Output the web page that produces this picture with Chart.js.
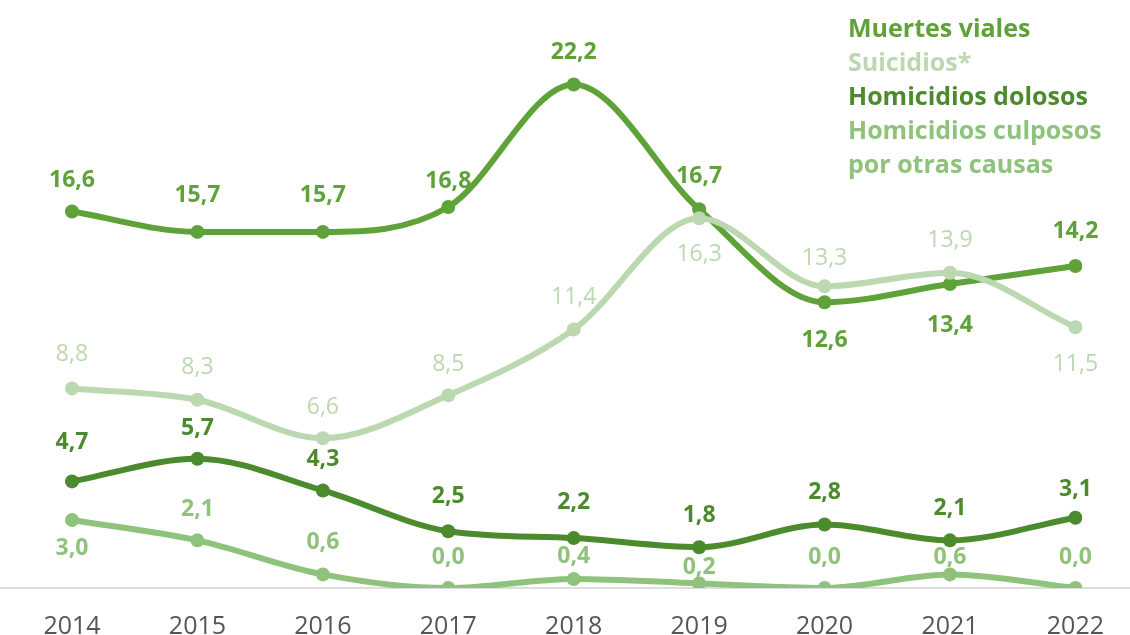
<!DOCTYPE html>
<html lang="es">
<head>
<meta charset="UTF-8">
<title>Tasas 2014-2022</title>
<script src="https://cdn.jsdelivr.net/npm/chart.js"></script>
<style>
  html, body { margin: 0; padding: 0; background: #fff; }
  #wrap { width: 1130px; height: 635px; }
</style>
</head>
<body>
<div id="wrap"><canvas id="chart" width="1130" height="635"></canvas></div>
<script>
// datos
const years = ['2014', '2015', '2016', '2017', '2018', '2019', '2020', '2021', '2022'];
const muertesViales = [16.6, 15.7, 15.7, 16.8, 22.2, 16.7, 12.6, 13.4, 14.2];
const suicidios = [8.8, 8.3, 6.6, 8.5, 11.4, 16.3, 13.3, 13.9, 11.5];
const homicidiosDolosos = [4.7, 5.7, 4.3, 2.5, 2.2, 1.8, 2.8, 2.1, 3.1];
const homicidiosCulposos = [3.0, 2.1, 0.6, 0.0, 0.4, 0.2, 0.0, 0.6, 0.0];

// desplazamiento vertical de cada etiqueta respecto de su punto (px)
const offMuertes = [-31, -36, -36, -26, -32, -33, 38, 41, -34];
const offSuicidios = [-34, -32, -31, -31, -32, 36, -28, -32, 37];
const offDolosos = [-39, -30, -31, -35, -36, -32, -32, -32, -28];
const offCulposos = [28, -31, -32, -31, -22, -16, -31, -17, -31];

const C_MUERTES = '#5fa23a';
const C_SUICIDIOS = '#bcd8b0';
const C_DOLOSOS = '#4b8a2d';
const C_CULPOSOS = '#8fc37b';

const FONT = '"Open Sans", "Noto Sans", sans-serif';

function fmt(v) {
  return v.toFixed(1).replace('.', ',');
}

function serie(label, data, color, width, order, offsets, weight) {
  return {
    label: label,
    data: data,
    borderColor: color,
    backgroundColor: color,
    borderWidth: width,
    pointRadius: 7,
    pointBorderWidth: 0,
    pointBackgroundColor: color,
    cubicInterpolationMode: 'monotone',
    order: order,
    offsets: offsets,
    labelWeight: weight
  };
}

// etiquetas de valores
const valueLabels = {
  id: 'valueLabels',
  afterDatasetsDraw(chart) {
    const ctx = chart.ctx;
    ctx.save();
    ctx.textAlign = 'center';
    ctx.textBaseline = 'middle';
    chart.data.datasets.forEach((ds, i) => {
      const meta = chart.getDatasetMeta(i);
      ctx.fillStyle = ds.borderColor;
      ctx.font = ds.labelWeight + ' 23px ' + FONT;
      meta.data.forEach((pt, j) => {
        ctx.fillText(fmt(ds.data[j]), pt.x, pt.y + ds.offsets[j]);
      });
    });
    ctx.restore();
  }
};

// línea base y leyenda
const extras = {
  id: 'extras',
  beforeDatasetsDraw(chart) {
    const ctx = chart.ctx;
    const y = chart.scales.y.getPixelForValue(0);
    ctx.save();
    ctx.strokeStyle = '#dddddd';
    ctx.lineWidth = 2;
    ctx.beginPath();
    ctx.moveTo(0, y);
    ctx.lineTo(chart.width, y);
    ctx.stroke();
    ctx.restore();
  },
  afterDraw(chart) {
    const ctx = chart.ctx;
    const lines = [
      ['Muertes viales', C_MUERTES],
      ['Suicidios*', C_SUICIDIOS],
      ['Homicidios dolosos', C_DOLOSOS],
      ['Homicidios culposos', C_CULPOSOS],
      ['por otras causas', C_CULPOSOS]
    ];
    ctx.save();
    ctx.font = 'bold 25px ' + FONT;
    ctx.textAlign = 'left';
    ctx.textBaseline = 'middle';
    lines.forEach((l, i) => {
      ctx.fillStyle = l[1];
      ctx.fillText(l[0], 848, 30 + i * 34);
    });
    ctx.restore();
  }
};

new Chart(document.getElementById('chart'), {
  type: 'line',
  data: {
    labels: years,
    datasets: [
      serie('Muertes viales', muertesViales, C_MUERTES, 6, 1, offMuertes, 'bold'),
      serie('Suicidios*', suicidios, C_SUICIDIOS, 6, 0, offSuicidios, 'normal'),
      serie('Homicidios dolosos', homicidiosDolosos, C_DOLOSOS, 6, 2, offDolosos, 'bold'),
      serie('Homicidios culposos por otras causas', homicidiosCulposos, C_CULPOSOS, 6, 3, offCulposos, 'bold')
    ]
  },
  options: {
    responsive: false,
    animation: false,
    layout: { padding: { left: 72, right: 51, top: 21, bottom: 0 } },
    plugins: {
      legend: { display: false },
      tooltip: { enabled: false }
    },
    scales: {
      x: {
        offset: false,
        grid: { display: false, drawTicks: false },
        border: { display: false },
        ticks: {
          color: '#555555',
          padding: 26,
          font: { family: FONT, size: 25, lineHeight: 1.0 }
        },
        afterFit(scale) { scale.height = 47; }
      },
      y: {
        display: false,
        min: 0,
        max: 25
      }
    }
  },
  plugins: [extras, valueLabels]
});
</script>
</body>
</html>
